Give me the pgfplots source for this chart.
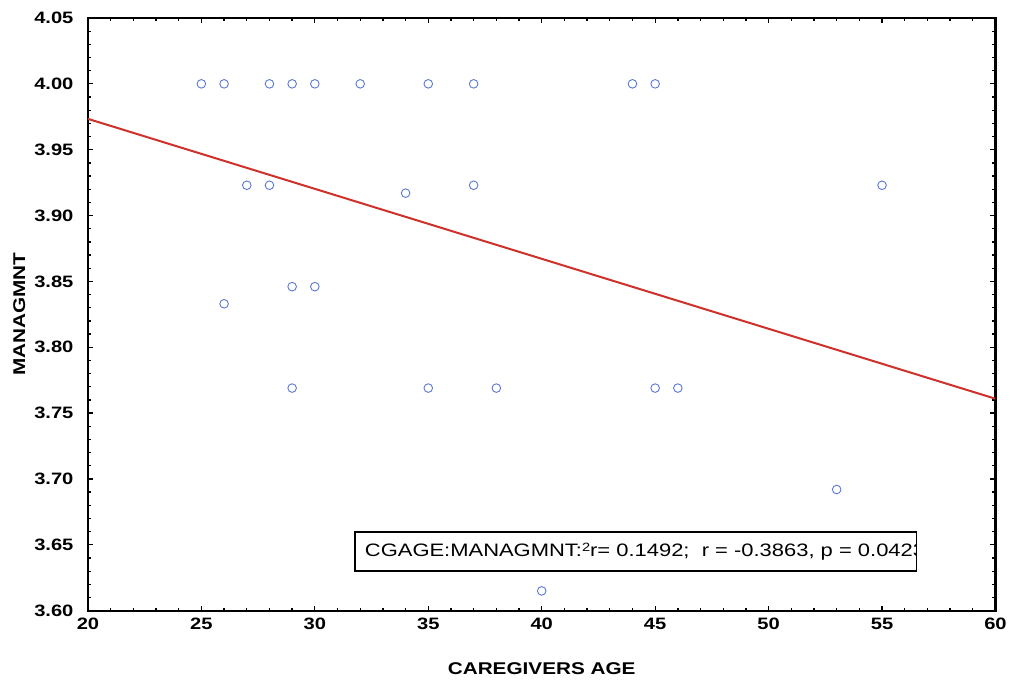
\documentclass[border=0pt]{standalone}
\usepackage{pgfplots}
\pgfplotsset{compat=1.18}
\usepackage{fontspec}
\setmainfont[FakeStretch=1.22]{Liberation Sans}
\definecolor{ptblue}{HTML}{5A78D2}
\definecolor{fitred}{HTML}{D0302A}

\begin{document}
\begin{tikzpicture}
\begin{axis}[
  scale only axis,
  width=908pt, height=593pt,
  xmin=20, xmax=60, ymin=3.60, ymax=4.05,
  xtick={20,25,...,60},
  ytick={3.60,3.65,...,4.051},
  minor x tick num=4, minor y tick num=4,
  tick align=inside,
  major tick length=5pt, minor tick length=3pt,
  tick style={black, line width=1.3pt},
  axis line style={line width=2.2pt},
  xticklabel style={font=\fontsize{16.5}{19}\selectfont\bfseries, yshift=-4pt},
  yticklabel style={font=\fontsize{16.5}{19}\selectfont\bfseries, xshift=-11pt},
  yticklabel={\pgfmathprintnumber[fixed,fixed zerofill,precision=2]{\tick}},
  /pgf/number format/assume math mode=true,
  xlabel={CAREGIVERS AGE},
  ylabel={MANAGMNT},
  label style={font=\fontsize{17}{20}\selectfont\bfseries},
  xlabel style={yshift=-26pt},
  ylabel style={yshift=2pt},
  clip=true,
]
\addplot[only marks, mark=o, mark size=4.3pt, mark options={ptblue, line width=0.9pt}]
coordinates {
  (25,4.000) (26,4.000) (28,4.000) (29,4.000) (30,4.000) (32,4.000)
  (35,4.000) (37,4.000) (44,4.000) (45,4.000)
  (27,3.923) (28,3.923) (34,3.917) (37,3.923) (55,3.923)
  (26,3.833) (29,3.846) (30,3.846)
  (29,3.769) (35,3.769) (38,3.769) (45,3.769) (46,3.769)
  (53,3.692) (40,3.615)
};
\addplot[fitred, line width=2pt] coordinates {(20,3.9734) (60,3.7609)};
\begin{scope}
\clip (axis cs:31.76,3.660) rectangle (axis cs:56.52,3.6304);
\node[anchor=west, inner sep=0pt, font=\fontsize{18}{20}\selectfont]
  at (axis cs:32.2,3.6448)
  {CGAGE:MANAGMNT:\raisebox{0.6ex}{\fontsize{12}{13}\selectfont 2}r= 0.1492;\ \ r = -0.3863, p = 0.0423};
\end{scope}
\draw[black, line width=1.8pt] (axis cs:31.76,3.660) rectangle (axis cs:56.52,3.6304);
\end{axis}
\path (current axis.south west) ++(-88pt,-75pt) coordinate (bbsw);
\path (current axis.north east) ++(14pt,18pt) coordinate (bbne);
\useasboundingbox (bbsw) rectangle (bbne);
\end{tikzpicture}
\end{document}
